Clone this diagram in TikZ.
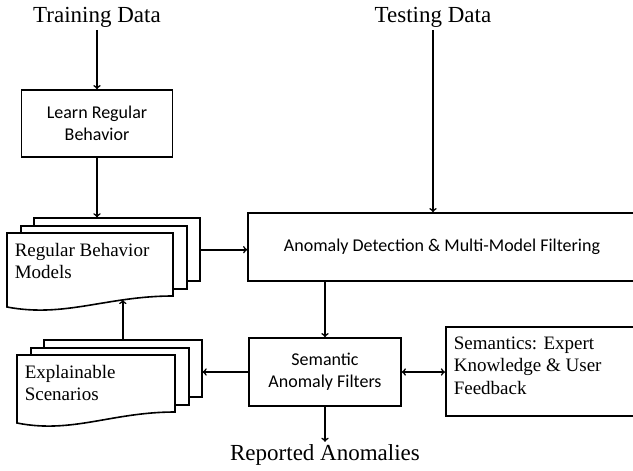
\documentclass[tikz,border=0pt]{standalone}
\usepackage{fontspec}
\setmainfont{Liberation Serif}
\newfontfamily\boxfont{Carlito}
\usepackage{tikz}
\usetikzlibrary{positioning}

% stack of three sheets: name, x, y, width, height, text
\newcommand{\docstack}[6]{%
  \foreach \i/\d in {3/26,2/13}{\node[sheet,minimum width=#4,minimum height=#5,anchor=north west] (#1\i) at (#2+\d,#3-0.6*\d) {};}
  \draw[sheet] (#2,#3) -- ++(#4,0) -- ++(0,#5) .. controls +(-0.4*#4,0) and +(0.35*#4,11) .. (#2,#3+#5+11) coordinate[pos=0.28] (#1bot) -- cycle;
  \node[doctext] (#1) at (#2+7,#3+10) {#6};
}

\begin{document}
\begin{tikzpicture}[x=1pt,y=-1pt,>=to,line width=1.6pt,
  every node/.style={inner sep=2pt},
  sheet/.style={draw,fill=white,inner sep=0pt},
  box/.style={draw,align=center,font=\boxfont\fontsize{18}{22}\selectfont},
  doctext/.style={anchor=north west,align=left,inner sep=0pt,font=\fontsize{19}{22}\selectfont},
  lbl/.style={font=\fontsize{23}{26}\selectfont}]
  \useasboundingbox (0,0) rectangle (633,471);
  \clip (0,0) rectangle (633,471);

  \node[lbl] (train) at (97,17) {Training Data};
  \node[lbl] (test) at (433,17) {Testing Data};
  \node[box,minimum width=151,minimum height=67] (learn) at (97,123.5) {Learn Regular\\Behavior};
  \node[box,minimum width=388,minimum height=68] (detect) at (442,247) {Anomaly Detection \& Multi-Model Filtering};
  \node[box,minimum width=152,minimum height=68] (semf) at (325,372) {Semantic\\Anomaly Filters};
  \node[draw,anchor=west,minimum height=89,inner xsep=8pt,font=\fontsize{19}{22.5}\selectfont] (sem) at (445,371.5)
    {\begin{minipage}[t][70pt]{190pt}Semantics: Expert\\Knowledge \& User\\Feedback\end{minipage}};
  \node[lbl] (rep) at (325,455) {Reported Anomalies};

  \docstack{rbm}{7}{233}{166}{63}{Regular Behavior\\Models}
  \docstack{expl}{17}{355}{158}{57}{Explainable\\Scenarios}

  \draw[->] (train) -- (learn);
  \draw[->] (learn.south) -- (learn.south |- rbm3.north);
  \draw[->] (test) -- (test |- detect.north);
  \draw[->] (rbm3.east) -- (rbm3.east -| detect.west);
  \draw[->] (detect.south -| semf.north) -- (semf.north);
  \draw[<->] (semf.east) -- (semf.east -| sem.west);
  \draw[->] (semf.west) -- (semf.west -| expl3.east);
  \draw[->] (semf) -- (rep);
  \draw[->] (expl3.north) -- (expl3.north |- rbmbot);
\end{tikzpicture}
\end{document}
